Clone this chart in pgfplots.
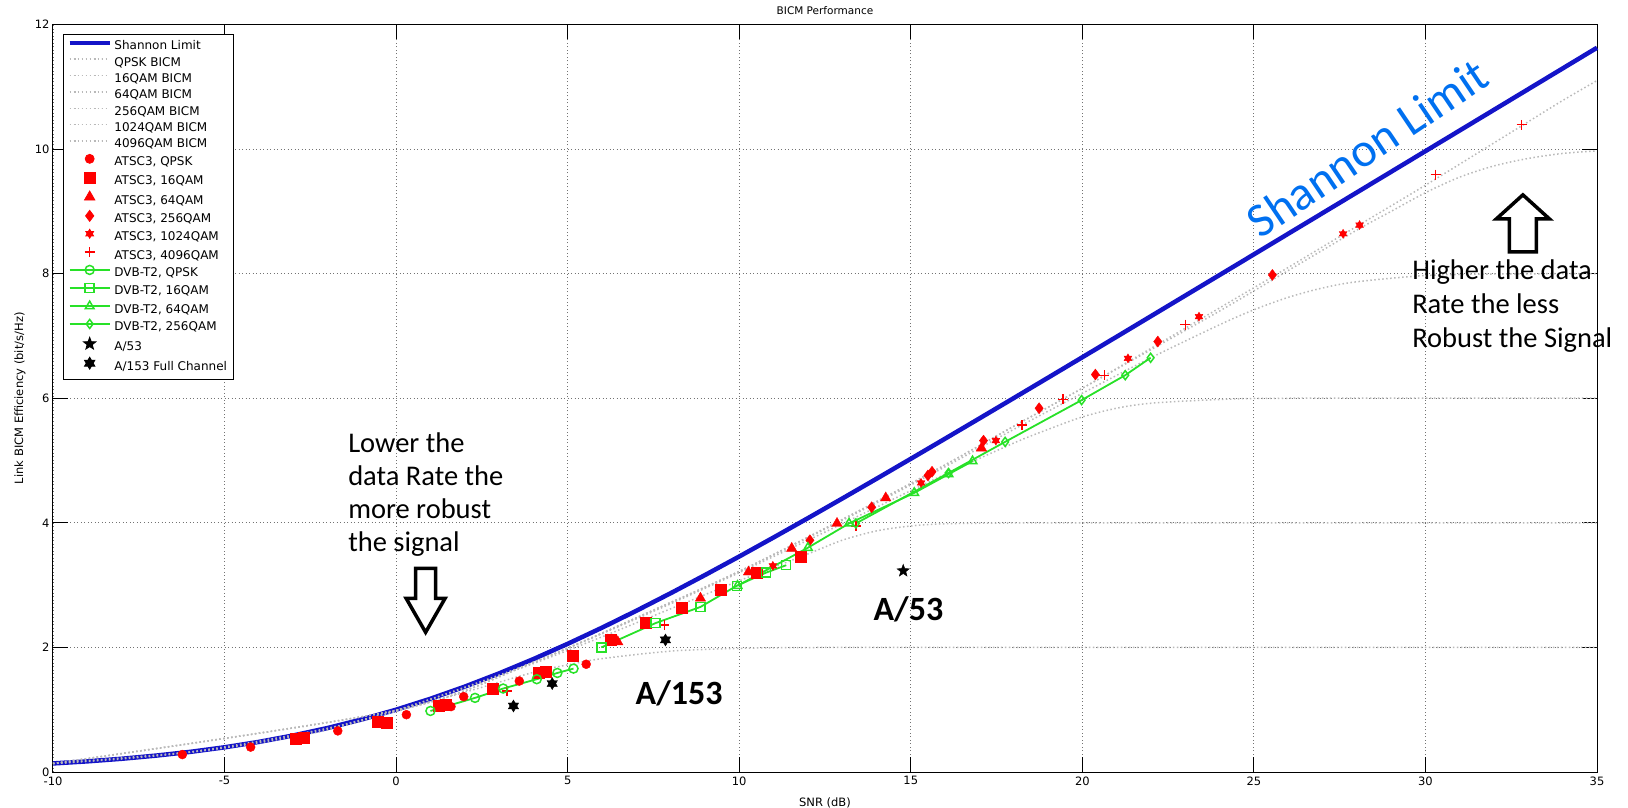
\documentclass[border=0pt]{standalone}
\usepackage{fontspec}
\setmainfont{DejaVu Sans}
\newfontfamily\calfont{Carlito}
\usepackage{pgfplots}
\pgfplotsset{compat=1.18}
\definecolor{shannonblue}{RGB}{20,20,200}
\definecolor{shannontext}{RGB}{0,112,240}
\definecolor{dvbgreen}{RGB}{40,225,40}
\definecolor{bicmgray}{RGB}{185,185,185}
\pgfdeclareplotmark{hexagram}{%
  \pgfpathmoveto{\pgfpointpolar{90}{\pgfplotmarksize}}%
  \pgfpathlineto{\pgfpointpolar{210}{\pgfplotmarksize}}%
  \pgfpathlineto{\pgfpointpolar{330}{\pgfplotmarksize}}%
  \pgfpathclose
  \pgfpathmoveto{\pgfpointpolar{270}{\pgfplotmarksize}}%
  \pgfpathlineto{\pgfpointpolar{30}{\pgfplotmarksize}}%
  \pgfpathlineto{\pgfpointpolar{150}{\pgfplotmarksize}}%
  \pgfpathclose
  \pgfusepathqfillstroke
}
\pgfdeclareplotmark{fivestar}{%
  \pgfpathmoveto{\pgfpointpolar{90}{\pgfplotmarksize}}%
  \pgfpathlineto{\pgfpointpolar{126}{0.42*\pgfplotmarksize}}%
  \pgfpathlineto{\pgfpointpolar{162}{\pgfplotmarksize}}%
  \pgfpathlineto{\pgfpointpolar{198}{0.42*\pgfplotmarksize}}%
  \pgfpathlineto{\pgfpointpolar{234}{\pgfplotmarksize}}%
  \pgfpathlineto{\pgfpointpolar{270}{0.42*\pgfplotmarksize}}%
  \pgfpathlineto{\pgfpointpolar{306}{\pgfplotmarksize}}%
  \pgfpathlineto{\pgfpointpolar{342}{0.42*\pgfplotmarksize}}%
  \pgfpathlineto{\pgfpointpolar{18}{\pgfplotmarksize}}%
  \pgfpathlineto{\pgfpointpolar{54}{0.42*\pgfplotmarksize}}%
  \pgfpathclose
  \pgfusepathqfillstroke
}
\begin{document}
\begin{tikzpicture}
\begin{axis}[
  at={(0pt,0pt)}, anchor=south west,
  scale only axis, width=1544pt, height=747.5pt,
  xmin=-10, xmax=35, ymin=0, ymax=12,
  xtick={-10,-5,0,5,10,15,20,25,30,35},
  ytick={0,2,4,6,8,10,12},
  tick pos=both, tick align=inside, major tick length=15pt,
  axis line style={line width=1pt, black},
  tick style={line width=1pt, black},
  grid=major,
  grid style={line width=0.8pt, black!55, dash pattern=on 1pt off 2.5pt},
  tick label style={font=\fontsize{11.5}{13}\selectfont},
  xticklabel style={yshift=-1pt},
  /pgf/number format/assume math mode=true,
  title={BICM Performance},
  title style={font=\fontsize{10.5}{12}\selectfont, at={(axis description cs:0.5,1)}, anchor=base, yshift=3.5pt},
  xlabel={SNR (dB)},
  xlabel style={font=\fontsize{11.5}{13}\selectfont, at={(axis description cs:0.5,0)}, anchor=base, yshift=-34pt},
  ylabel={Link BICM Efficiency (bit/s/Hz)},
  ylabel style={font=\fontsize{11.5}{13}\selectfont, at={(axis description cs:-0.0214,0.5)}, anchor=center},
  clip=false,
  legend cell align=left,
  legend style={at={(0.0065,0.9873)}, anchor=north west, draw=black, line width=0.8pt, fill=white,
    font=\fontsize{12}{14}\selectfont, inner xsep=4pt, inner ysep=5.5pt, row sep=2.35pt,
    nodes={inner xsep=2.5pt, inner ysep=1pt, text height=9pt, text depth=3pt}},
  legend image code/.code={\draw[mark repeat=2,mark phase=2,#1] plot coordinates {(0pt,4pt) (20pt,4pt) (40pt,4pt)};},
]
% Shannon limit
\addplot[color=shannonblue, line width=4.5pt] table {
-10 0.1375
-9 0.1711
-8 0.2124
-7 0.2630
-6 0.3233
-5 0.3964
-4 0.4834
-3 0.5862
-2 0.7058
-1 0.8434
0 1.0000
1 1.1756
2 1.3701
3 1.5827
4 1.8123
5 2.0574
6 2.3164
7 2.5878
8 2.8698
9 3.1609
10 3.4594
11 3.7645
12 4.0746
13 4.3891
14 4.7071
15 5.0280
16 5.3511
17 5.6759
18 6.0022
19 6.3297
20 6.6582
21 6.9874
22 7.3174
23 7.6478
24 7.9785
25 8.3096
26 8.6408
27 8.9721
28 9.3037
29 9.6354
30 9.9672
31 10.299
32 10.631
33 10.963
34 11.295
35 11.627
};
\addlegendentry{Shannon Limit}
% BICM curves
\addplot[color=bicmgray, line width=1.5pt, dash pattern=on 1.5pt off 2.5pt, smooth] table {
-10 0.136
-8 0.209
-6 0.316
-4 0.468
-2 0.676
0 0.972
2 1.28
4 1.60
5 1.72
6 1.82
8 1.94
10 1.985
12 1.998
15 2.0
35 2.0
};
\addlegendentry{QPSK BICM}
\addplot[color=bicmgray, line width=1.5pt, dash pattern=on 1.5pt off 2.5pt, smooth] table {
-10 0.137
-6 0.322
-4 0.481
-2 0.70
0 0.99
2 1.35
4 1.74
6 2.17
8 2.62
10 3.07
12 3.50
13 3.72
14 3.87
15 3.95
16 3.985
18 3.998
20 4.0
35 4.0
};
\addlegendentry{16QAM BICM}
\addplot[color=bicmgray, line width=1.5pt, dash pattern=on 1.5pt off 2.5pt, smooth] table {
-10 0.137
-6 0.322
-2 0.70
0 0.99
2 1.36
4 1.76
6 2.22
8 2.70
10 3.20
12 3.72
14 4.25
16 4.78
18 5.28
19 5.50
20 5.70
21 5.84
22 5.92
24 5.98
26 6.0
35 6.0
};
\addlegendentry{64QAM BICM}
\addplot[color=bicmgray, line width=1.5pt, dash pattern=on 1.5pt off 2.5pt, smooth] table {
-10 0.137
0 0.99
4 1.76
8 2.72
10 3.22
12 3.76
14 4.32
16 4.90
18 5.50
20 6.08
22 6.65
24 7.18
25 7.42
26 7.62
27 7.77
28 7.87
30 7.97
32 7.995
35 8.0
};
\addlegendentry{256QAM BICM}
\addplot[color=bicmgray, line width=1.5pt, dash pattern=on 1.5pt off 2.5pt, smooth] table {
-10 0.137
0 0.99
4 1.76
8 2.72
10 3.22
12 3.77
14 4.34
16 4.93
18 5.55
20 6.16
22 6.78
24 7.40
26 8.05
28 8.70
29 9.00
30 9.30
31 9.55
32 9.73
33 9.85
34 9.93
35 9.97
};
\addlegendentry{1024QAM BICM}
\addplot[color=bicmgray, line width=1.5pt, dash pattern=on 1.5pt off 2.5pt, smooth] table {
-10 0.137
0 0.99
4 1.76
8 2.72
10 3.22
12 3.77
14 4.34
16 4.93
18 5.55
20 6.16
22 6.80
24 7.45
26 8.10
28 8.76
30 9.42
32 10.10
33 10.44
34 10.78
35 11.10
};
\addlegendentry{4096QAM BICM}
% ATSC3
\addplot[only marks, mark=*, mark size=4.5pt, color=red, fill=red] table {
-6.23 0.28
-4.24 0.40
-1.70 0.66
0.30 0.92
1.60 1.05
1.97 1.21
3.59 1.46
5.54 1.73
};
\addlegendentry{ATSC3, QPSK}
\addplot[only marks, mark=square*, mark size=5.5pt, color=red, fill=red] table {
-2.92 0.53
-2.70 0.55
-0.53 0.80
-0.26 0.79
1.25 1.07
1.45 1.08
2.81 1.33
4.15 1.60
4.36 1.61
5.16 1.87
6.25 2.13
7.27 2.39
8.33 2.64
9.45 2.93
10.50 3.20
11.79 3.45
};
\addlegendentry{ATSC3, 16QAM}
\addplot[only marks, mark=triangle*, mark size=6pt, color=red, fill=red] table {
6.46 2.09
8.87 2.79
10.27 3.21
11.53 3.59
12.85 3.99
14.27 4.40
17.06 5.20
};
\addlegendentry{ATSC3, 64QAM}
\addplot[only marks, mark=diamond*, mark size=5.5pt, color=red, fill=red] table {
12.06 3.72
13.86 4.25
15.50 4.76
15.62 4.82
17.12 5.32
18.74 5.84
20.38 6.38
22.20 6.91
25.54 7.98
};
\addlegendentry{ATSC3, 256QAM}
\addplot[only marks, mark=hexagram, mark size=4.5pt, color=red, fill=red] table {
10.98 3.31
15.30 4.64
17.48 5.32
21.33 6.64
23.40 7.31
27.60 8.64
28.08 8.78
};
\addlegendentry{ATSC3, 1024QAM}
\addplot[only marks, mark=+, mark size=5pt, color=red, line width=1.3pt] table {
3.23 1.30
7.82 2.36
13.40 3.95
18.24 5.57
19.44 5.98
20.64 6.37
23.00 7.18
30.30 9.59
32.80 10.39
};
\addlegendentry{ATSC3, 4096QAM}
% DVB-T2
\addplot[color=dvbgreen, line width=1.8pt, mark=o, mark size=4.5pt, mark options={solid, line width=1.5pt}] table {
1.00 0.98
2.30 1.19
3.12 1.34
4.10 1.49
4.70 1.59
5.17 1.66
};
\addlegendentry{DVB-T2, QPSK}
\addplot[color=dvbgreen, line width=1.8pt, mark=square, mark size=4.5pt, mark options={solid, line width=1.5pt}] table {
5.98 2.00
7.56 2.39
8.87 2.65
9.93 2.99
10.78 3.20
11.37 3.32
};
\addlegendentry{DVB-T2, 16QAM}
\addplot[color=dvbgreen, line width=1.8pt, mark=triangle, mark size=5pt, mark options={solid, line width=1.5pt}] table {
9.95 2.99
12.00 3.60
13.20 3.99
15.10 4.48
16.10 4.78
16.80 4.99
};
\addlegendentry{DVB-T2, 64QAM}
\addplot[color=dvbgreen, line width=1.8pt, mark=diamond, mark size=4.5pt, mark options={solid, line width=1.5pt}] table {
13.40 3.99
16.10 4.80
17.75 5.30
19.98 5.97
21.25 6.37
21.99 6.65
};
\addlegendentry{DVB-T2, 256QAM}
% ATSC 1.0 and A/153
\addplot[only marks, mark=fivestar, mark size=6.5pt, color=black, fill=black] table {
14.78 3.23
};
\addlegendentry{A/53}
\addplot[only marks, mark=hexagram, mark size=6pt, color=black, fill=black] table {
3.42 1.06
4.55 1.42
7.85 2.12
};
\addlegendentry{A/153 Full Channel}
% annotations
\node[rotate=34, text=shannontext, font=\calfont\fontsize{48}{52}\selectfont, inner sep=0pt] at (axis cs:28.30,10.02) {Shannon Limit};
\node[font=\calfont\fontsize{28.5}{33}\selectfont, anchor=base west, inner sep=0pt] at (axis cs:-1.40,5.136) {Lower the};
\node[font=\calfont\fontsize{28.5}{33}\selectfont, anchor=base west, inner sep=0pt] at (axis cs:-1.40,4.607) {data Rate the};
\node[font=\calfont\fontsize{28.5}{33}\selectfont, anchor=base west, inner sep=0pt] at (axis cs:-1.40,4.077) {more robust};
\node[font=\calfont\fontsize{28.5}{33}\selectfont, anchor=base west, inner sep=0pt] at (axis cs:-1.40,3.547) {the signal};
\node[font=\calfont\fontsize{28.5}{33}\selectfont, anchor=base west, inner sep=0pt] at (axis cs:29.61,7.913) {Higher the data};
\node[font=\calfont\fontsize{28.5}{33}\selectfont, anchor=base west, inner sep=0pt] at (axis cs:29.61,7.368) {Rate the less};
\node[font=\calfont\fontsize{28.5}{33}\selectfont, anchor=base west, inner sep=0pt] at (axis cs:29.61,6.822) {Robust the Signal};
\node[font=\calfont\bfseries\fontsize{34}{40}\selectfont, inner sep=0pt] at (axis cs:8.25,1.27) {A/153};
\node[font=\calfont\bfseries\fontsize{34}{40}\selectfont, inner sep=0pt] at (axis cs:14.93,2.61) {A/53};
\draw[line width=3.5pt, fill=white, line join=miter] (axis cs:0.86,3.27) ++(-10pt,0pt) -- ++(20pt,0pt) -- ++(0pt,-30pt) -- ++(9.5pt,0pt) -- ++(-19.5pt,-34pt) -- ++(-19.5pt,34pt) -- ++(9.5pt,0pt) -- cycle;
\draw[line width=3.5pt, fill=white, line join=miter] (axis cs:32.84,8.35) ++(-13.5pt,0pt) -- ++(27pt,0pt) -- ++(0pt,33pt) -- ++(13pt,0pt) -- ++(-26.5pt,24pt) -- ++(-26.5pt,-24pt) -- ++(13pt,0pt) -- cycle;
\end{axis}
\pgfresetboundingbox
\path[use as bounding box] (-53pt,-35pt) rectangle (1575pt,772pt);
\end{tikzpicture}
\end{document}
